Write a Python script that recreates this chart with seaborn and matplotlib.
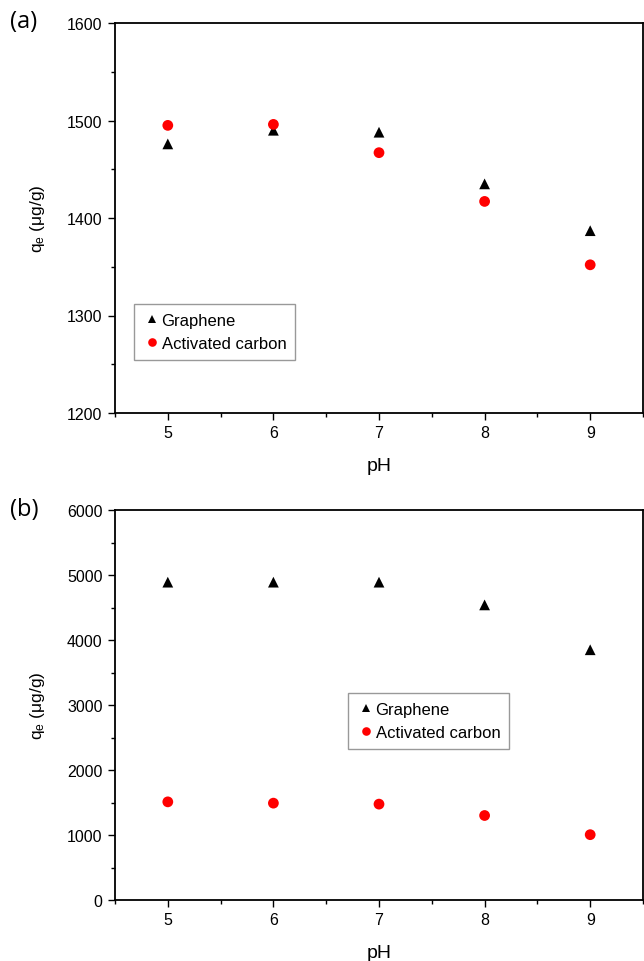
import numpy as np
import pandas as pd
import matplotlib
matplotlib.use("Agg")
import matplotlib.pyplot as plt
from matplotlib.ticker import MultipleLocator
import seaborn as sns

ph = [5, 6, 7, 8, 9]
graphene_a = [1476, 1490, 1488, 1435, 1387]
carbon_a = [1495, 1496, 1467, 1417, 1352]
graphene_b = [4890, 4890, 4890, 4540, 3850]
carbon_b = [1510, 1490, 1475, 1300, 1005]
series_names = ["Graphene", "Activated carbon"]

sns.set_theme(style="white", rc={"text.color": "black", "axes.labelcolor": "black",
                                 "xtick.color": "black", "ytick.color": "black"})
plt.rcParams["font.family"] = ["Liberation Sans", "DejaVu Sans"]
plt.rcParams["mathtext.default"] = "regular"

fig = plt.figure(figsize=(6.44, 9.62), dpi=100)
ax_a = fig.add_axes([115/644, 1-414/962, 528/644, 390/962])
ax_b = fig.add_axes([115/644, 1-901/962, 528/644, 390/962])

palette = {"Graphene": "black", "Activated carbon": "#ff0000"}
markers = {"Graphene": "^", "Activated carbon": "o"}

def panel(ax, g, c, ylim, major, minor, legend_loc):
    df = pd.DataFrame({
        "pH": ph + ph,
        "q": g + c,
        "series": [series_names[0]] * len(ph) + [series_names[1]] * len(ph),
    })
    sns.scatterplot(data=df, x="pH", y="q", hue="series", style="series",
                    palette=palette, markers=markers, s=60, linewidth=0,
                    ax=ax, legend=True)
    ax.set_xlim(4.5, 9.5)
    ax.set_ylim(*ylim)
    ax.xaxis.set_major_locator(MultipleLocator(1))
    ax.xaxis.set_minor_locator(MultipleLocator(0.5))
    ax.yaxis.set_major_locator(MultipleLocator(major))
    ax.yaxis.set_minor_locator(MultipleLocator(minor))
    ax.tick_params(axis="both", which="major", direction="out", length=5, width=1,
                   labelsize=11.5, bottom=True, left=True, top=False, right=False, pad=4)
    ax.tick_params(axis="both", which="minor", direction="out", length=3, width=1,
                   bottom=True, left=True, top=False, right=False)
    for sp in ax.spines.values():
        sp.set_color("black")
        sp.set_linewidth(1.3)
    ax.set_xlabel("pH", fontsize=14, labelpad=12)
    ax.set_ylabel("q$_e$ (μg/g)", fontsize=12.5, labelpad=14)
    h, l = ax.get_legend_handles_labels()
    leg = ax.legend(h, l, loc="upper left", bbox_to_anchor=legend_loc,
                    frameon=True, fancybox=False, fontsize=12,
                    handletextpad=0.1, borderpad=0.55, labelspacing=0.45,
                    handlelength=1.0, markerscale=0.8, borderaxespad=0)
    leg.get_frame().set_edgecolor("#808080")
    leg.get_frame().set_linewidth(1.0)

panel(ax_a, graphene_a, carbon_a, (1200, 1600), 100, 50,
      ((134-115)/528, (414-305)/390))
panel(ax_b, graphene_b, carbon_b, (0, 6000), 1000, 500,
      ((348-115)/528, (901-694)/390))

fig.text(10/644, 1-22/962, "(a)", fontsize=17, va="center", ha="left",
         family=["Open Sans", "DejaVu Sans"])
fig.text(10/644, 1-510/962, "(b)", fontsize=17, va="center", ha="left",
         family=["Open Sans", "DejaVu Sans"])

fig.savefig("out.png", dpi=100)
